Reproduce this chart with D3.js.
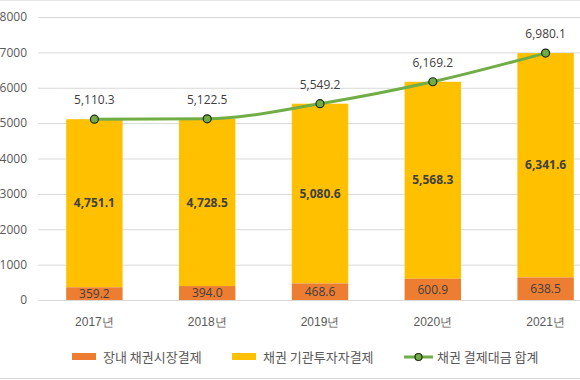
<!DOCTYPE html>
<html><head><meta charset="utf-8">
<script src="https://cdn.jsdelivr.net/npm/d3@7"></script>
<style>body{margin:0;background:#fff}svg{display:block;font-family:"Noto Sans CJK KR","Noto Sans",sans-serif}</style>
</head><body>
<svg id="c" width="580" height="380"></svg>
<script>
const categories = ["2017년","2018년","2019년","2020년","2021년"];
const exchange = [359.2, 394.0, 468.6, 600.9, 638.5];
const institutional = [4751.1, 4728.5, 5080.6, 5568.3, 6341.6];
const totals = [5110.3, 5122.5, 5549.2, 6169.2, 6980.1];
const yTicks = [0,1000,2000,3000,4000,5000,6000,7000,8000];
const seriesNames = ["장내 채권시장결제","채권 기관투자자결제","채권 결제대금 합계"];
const colors = {orange:"#ED7D31", yellow:"#FFC000", green:"#70AD47"};

const svg = d3.select("#c");
const fmt = d3.format(",.1f");
const x = d3.scaleBand().domain(categories).range([38, 602]).paddingInner(0.5).paddingOuter(0.25);
const y = d3.scaleLinear().domain([0, 8000]).range([300, 17]);

// borders
svg.append("line").attr("x1",0).attr("x2",580).attr("y1",0.5).attr("y2",0.5).attr("stroke","#e6e6e6");
svg.append("line").attr("x1",0).attr("x2",580).attr("y1",378.5).attr("y2",378.5).attr("stroke","#d9d9d9");

// grid
const yAxis = d3.axisLeft(y).tickValues(yTicks).tickSize(-560).tickFormat(d3.format("d")).tickPadding(11);
const gA = svg.append("g").attr("transform","translate(38,0)").call(yAxis);
gA.select(".domain").remove();
gA.selectAll(".tick line").attr("stroke","#d9d9d9").attr("stroke-width",1);
gA.selectAll(".tick text").attr("fill","#595959").attr("font-size",12).attr("font-family","'Open Sans','Noto Sans',sans-serif");

// bars
const bw = x.bandwidth();
svg.append("g").selectAll("rect").data(categories).join("rect")
  .attr("x", d=>x(d)).attr("width", bw)
  .attr("y", (d,i)=>y(exchange[i]+institutional[i])).attr("height",(d,i)=>y(exchange[i])-y(exchange[i]+institutional[i]))
  .attr("fill", colors.yellow);
svg.append("g").selectAll("rect").data(categories).join("rect")
  .attr("x", d=>x(d)).attr("width", bw)
  .attr("y", (d,i)=>y(exchange[i])).attr("height",(d,i)=>y(0)-y(exchange[i]))
  .attr("fill", colors.orange);

// x axis
const xAxis = d3.axisBottom(x).tickSize(0).tickPadding(17);
const gX = svg.append("g").attr("transform","translate(0,300)").call(xAxis);
gX.select(".domain").attr("stroke","#d9d9d9").attr("d","M38,0.5H580");
gX.selectAll(".tick text").attr("fill","#595959").attr("font-size",12);

// in-bar labels
const cx = d=>x(d)+bw/2;
svg.append("g").selectAll("text").data(categories).join("text")
  .attr("x", cx).attr("y",(d,i)=>y(exchange[i]+institutional[i]/2)).attr("dy","0.35em")
  .attr("text-anchor","middle").attr("font-size",12).attr("font-weight","bold").attr("fill","#404040")
  .attr("font-family","'Open Sans','Noto Sans',sans-serif")
  .text((d,i)=>fmt(institutional[i]));
svg.append("g").selectAll("text").data(categories).join("text")
  .attr("x", cx).attr("y",(d,i)=>y(exchange[i]/2)).attr("dy","0.35em")
  .attr("text-anchor","middle").attr("font-size",12).attr("fill","#404040")
  .attr("font-family","'Open Sans','Noto Sans',sans-serif")
  .text((d,i)=>fmt(exchange[i]));

// line
const line = d3.line().x((d,i)=>cx(categories[i])).y(d=>y(d)).curve(d3.curveMonotoneX);
svg.append("path").datum(totals).attr("d",line).attr("fill","none").attr("stroke",colors.green).attr("stroke-width",3);
svg.append("g").selectAll("circle").data(totals).join("circle")
  .attr("cx",(d,i)=>cx(categories[i])).attr("cy",d=>y(d)).attr("r",4)
  .attr("fill",colors.green).attr("stroke","#1e2a14").attr("stroke-width",1.2);
svg.append("g").selectAll("text").data(totals).join("text")
  .attr("x",(d,i)=>cx(categories[i])).attr("y",d=>y(d)-19).attr("dy","0.35em")
  .attr("text-anchor","middle").attr("font-size",12).attr("fill","#404040")
  .attr("font-family","'Open Sans','Noto Sans',sans-serif")
  .text(d=>fmt(d));

// legend
const lg = svg.append("g");
lg.append("rect").attr("x",72).attr("y",353).attr("width",24).attr("height",7).attr("fill",colors.orange);
lg.append("text").attr("x",103).attr("y",357).attr("dy","0.35em").attr("font-size",13).attr("fill","#595959").text(seriesNames[0]);
lg.append("rect").attr("x",232).attr("y",353).attr("width",24).attr("height",7).attr("fill",colors.yellow);
lg.append("text").attr("x",263).attr("y",357).attr("dy","0.35em").attr("font-size",13).attr("fill","#595959").text(seriesNames[1]);
lg.append("line").attr("x1",404).attr("x2",433).attr("y1",357).attr("y2",357).attr("stroke",colors.green).attr("stroke-width",3);
lg.append("circle").attr("cx",418.5).attr("cy",357).attr("r",3.5).attr("fill",colors.green).attr("stroke","#1e2a14").attr("stroke-width",1.2);
lg.append("text").attr("x",437).attr("y",357).attr("dy","0.35em").attr("font-size",13).attr("fill","#595959").text(seriesNames[2]);
</script>
</body></html>
